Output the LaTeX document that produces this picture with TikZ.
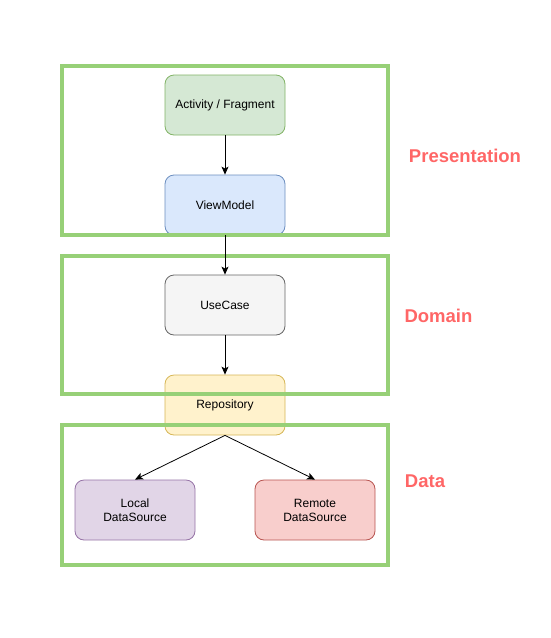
\documentclass[tikz,border=0pt]{standalone}
\usepackage{fontspec}
\setmainfont{Liberation Sans}
\usetikzlibrary{arrows.meta}
\usetikzlibrary{positioning}

\definecolor{layergreen}{HTML}{97D077}
\definecolor{labelred}{HTML}{FF6666}

\begin{document}
\begin{tikzpicture}[x=1pt, y=-1pt,
        box/.style={rectangle, draw, line width=0.8pt, rounded corners=9pt, minimum width=120pt, minimum height=60pt, align=center, font=\fontsize{12}{14}\selectfont},
        layer/.style={draw=layergreen, line width=4pt},
        layername/.style={text=labelred, font=\fontsize{18.5}{21}\selectfont\bfseries},
        flow/.style={-{Stealth[length=8pt, width=7pt, inset=2pt]}, line width=0.8pt}]
        \useasboundingbox (0, 0) rectangle (550, 638);

        \node[box, fill={rgb,255:red,213;green,232;blue,212}, draw={rgb,255:red,130;green,179;blue,102}] (activity) at (225, 105) {Activity / Fragment};
        \node[box, fill={rgb,255:red,218;green,232;blue,252}, draw={rgb,255:red,108;green,142;blue,191}] (viewmodel) at (225, 205) {ViewModel};
        \node[box, fill={rgb,255:red,245;green,245;blue,245}, draw={rgb,255:red,102;green,102;blue,102}] (usecase) at (225, 305) {UseCase};
        \node[box, fill={rgb,255:red,255;green,242;blue,204}, draw={rgb,255:red,214;green,182;blue,86}] (repository) at (225, 405) {Repository};
        \node[box, fill={rgb,255:red,225;green,213;blue,231}, draw={rgb,255:red,150;green,115;blue,166}] (local) at (135, 510) {Local\\DataSource};
        \node[box, fill={rgb,255:red,248;green,206;blue,204}, draw={rgb,255:red,184;green,84;blue,80}] (remote) at (315, 510) {Remote\\DataSource};

        % layers
        \draw[layer] (62, 66) rectangle (388, 235);
        \draw[layer] (62, 256) rectangle (388, 394);
        \draw[layer] (62, 425) rectangle (388, 565);

        \node[layername] (presentation) at (465, 156) {Presentation};
        \node[layername] (domain) at (438.5, 316) {Domain};
        \node[layername] (data) at (425, 481) {Data};

        \draw[flow] (activity.south) -- (viewmodel.north);
        \draw[flow] (viewmodel.south) -- (usecase.north);
        \draw[flow] (usecase.south) -- (repository.north);
        \draw[flow] (repository.south) -- (local.north);
        \draw[flow] (repository.south) -- (remote.north);
    \end{tikzpicture}
\end{document}
